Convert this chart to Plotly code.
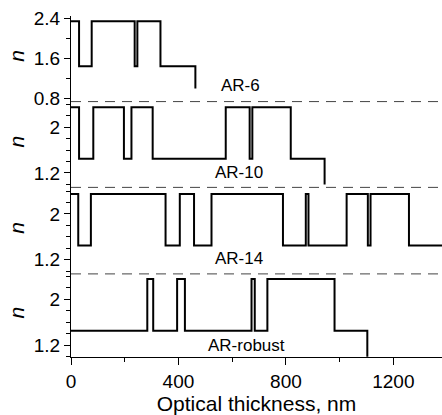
import plotly.graph_objects as go

# ---- data (optical thickness boundaries in nm, refractive index n) ----
H = 2.35
L = 1.45
AIR = 1.0

ar6_edges = [0, 30, 77, 237, 247, 333, 463]
ar6_n = [H, L, H, L, H, L, AIR]

ar10_edges = [0, 30, 83, 197, 225, 304, 576, 665, 675, 818, 944]
ar10_n = [H, L, H, L, H, L, H, L, H, L, AIR]

ar14_edges = [0, 27, 74, 352, 405, 458, 523, 789, 874, 884, 1026, 1105, 1115, 1258, 1420]
ar14_n = [H, L, H, L, H, L, H, L, H, L, H, L, H, L, AIR]

arrob_edges = [0, 284, 306, 395, 424, 672, 684, 731, 981, 1103]
arrob_n = [L, H, L, H, L, H, L, H, L, AIR]

labels = ["AR-6", "AR-10", "AR-14", "AR-robust"]
x_ticks = [0, 400, 800, 1200]
x_title = "Optical thickness, nm"

# ---- figure ----
FONT = "Liberation Sans, Arial, Helvetica, sans-serif"
fig = go.Figure()

series = [(ar6_edges, ar6_n, "y"), (ar10_edges, ar10_n, "y2"),
          (ar14_edges, ar14_n, "y3"), (arrob_edges, arrob_n, "y4")]
for ex, ny, ya in series:
    fig.add_trace(go.Scatter(x=ex, y=ny, mode="lines", line_shape="hv",
                             line=dict(color="black", width=2),
                             xaxis="x", yaxis=ya, showlegend=False,
                             hoverinfo="skip"))

doms = [[0.749, 1.0], [0.4974, 0.749], [0.2437, 0.4974], [0.0, 0.2437]]
ranges = [[0.74, 2.456], [0.948, 2.447], [0.953, 2.464], [0.995, 2.44]]

common_y = dict(showline=True, linecolor="black", linewidth=1.3,
                ticks="outside", ticklen=6, tickwidth=1.2, tickcolor="black",
                showgrid=False, zeroline=False,
                tickfont=dict(family=FONT, size=19, color="black"),
                anchor="x")

layout = dict(
    width=442, height=415,
    margin=dict(l=71, r=0, t=15.5, b=57.7),
    paper_bgcolor="white", plot_bgcolor="white",
    xaxis=dict(range=[0, 1381], domain=[0, 1], anchor="y4",
               showline=True, linecolor="black", linewidth=1.3,
               ticks="outside", ticklen=7, tickwidth=1.2, tickcolor="black",
               tickmode="array", tickvals=x_ticks,
               minor=dict(dtick=200, tick0=0, ticks="outside", ticklen=4,
                          tickcolor="black", tickwidth=1.2, showgrid=False),
               showgrid=False, zeroline=False,
               tickfont=dict(family=FONT, size=19, color="black"),
               title=dict(text=x_title, font=dict(family=FONT, size=21, color="black"),
                          standoff=1)),
)

for i in range(4):
    key = "yaxis" if i == 0 else f"yaxis{i+1}"
    d = dict(common_y)
    d["domain"] = doms[i]
    d["range"] = ranges[i]
    if i == 0:
        d.update(tick0=0.8, dtick=0.8,
                 minor=dict(tick0=0.8, dtick=0.4, ticks="outside", ticklen=4,
                            tickcolor="black", tickwidth=1.2, showgrid=False))
    else:
        d.update(tick0=1.2, dtick=0.8,
                 minor=dict(tick0=1.0, dtick=0.2, ticks="outside", ticklen=4,
                            tickcolor="black", tickwidth=1.2, showgrid=False))
    layout[key] = d

fig.update_layout(**layout)

# dashed separators between panels
for yb in [0.749, 0.4974, 0.2437]:
    fig.add_shape(type="line", xref="paper", yref="paper", x0=0, x1=1, y0=yb, y1=yb,
                  line=dict(color="#444444", width=1, dash="10px,7px"))

# y titles "n"
for i in range(4):
    mid = (doms[i][0] + doms[i][1]) / 2 + 0.01
    fig.add_annotation(text="<i>n</i>", xref="paper", yref="paper",
                       x=-0.147, y=mid, xanchor="center", yanchor="middle",
                       textangle=-90, showarrow=False,
                       font=dict(family=FONT, size=21, color="black"))

# panel labels
lab_pos = [(630, 1.072, "y"), (626, 1.215, "y2"), (626, 1.215, "y3"), (652, 1.196, "y4")]
for (lx, ly, ya), txt in zip(lab_pos, labels):
    fig.add_annotation(text=txt, x=lx, y=ly, xref="x", yref=ya,
                       xanchor="center", yanchor="middle", showarrow=False,
                       font=dict(family=FONT, size=17, color="black"))

fig.write_html("out.html")
